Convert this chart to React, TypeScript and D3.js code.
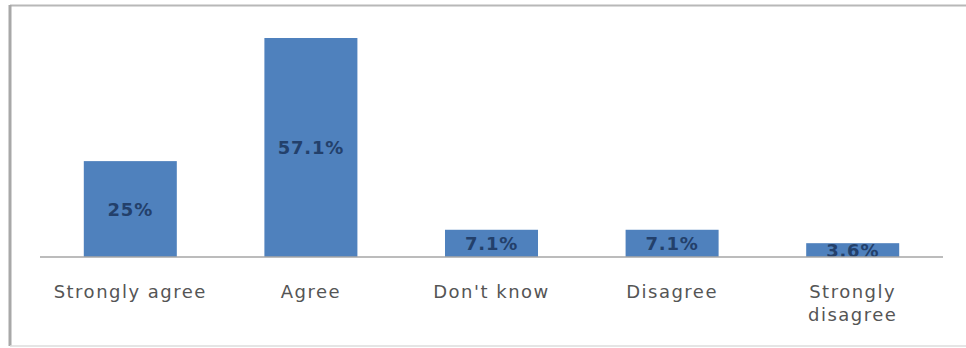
import React from "react";
import * as d3 from "d3";

const categories = ["Strongly agree", "Agree", "Don't know", "Disagree", "Strongly disagree"];
const values = [25, 57.1, 7.1, 7.1, 3.6];
const valueLabels = ["25%", "57.1%", "7.1%", "7.1%", "3.6%"];
// Category labels split over lines where they wrap
const categoryLines = [["Strongly agree"], ["Agree"], ["Don't know"], ["Disagree"], ["Strongly", "disagree"]];

const W = 966;
const H = 348;
const axisLeft = 40;
const axisRight = 943;
const baseY = 257;
const topY = 38;

export default function App() {
  const x = d3
    .scaleBand<string>()
    .domain(categories)
    .range([axisLeft, axisRight])
    .paddingInner(0.485)
    .paddingOuter(0.2425);

  const y = d3.scaleLinear().domain([0, 57.1]).range([baseY, topY]);

  const font = "'DejaVu Sans', 'Open Sans', sans-serif";

  return (
    <svg
      width={W}
      height={H}
      style={{ position: "absolute", left: 0, top: 0, display: "block" }}
      fontFamily={font}
    >
      <rect x={0} y={0} width={W} height={H} fill="#ffffff" />
      {/* chart frame */}
      <line x1={10} x2={W} y1={5.5} y2={5.5} stroke="#b8b8b8" strokeWidth={2} />
      <line x1={10} x2={10} y1={5} y2={346} stroke="#a8a8a8" strokeWidth={3} />
      <line x1={10} x2={W} y1={346} y2={346} stroke="#dcdcdc" strokeWidth={1.5} />

      {categories.map((c, i) => {
        const bx = x(c)!;
        const bw = x.bandwidth();
        const top = y(values[i]);
        return (
          <g key={c}>
            <rect x={bx} y={top} width={bw} height={baseY - top} fill="#4f81bd" />
            <text
              x={bx + bw / 2}
              y={(top + baseY) / 2}
              dy="0.36em"
              textAnchor="middle"
              fontSize={18}
              fontWeight={600}
              letterSpacing={0.8}
              fill="#23406b"
            >
              {valueLabels[i]}
            </text>
          </g>
        );
      })}

      <line x1={axisLeft} x2={axisRight} y1={baseY} y2={baseY} stroke="#a6a6a6" strokeWidth={1.5} />

      {categories.map((c, i) => {
        const cx = x(c)! + x.bandwidth() / 2;
        return (
          <text key={c} textAnchor="middle" fontSize={18} letterSpacing={1.5} fill="#555555">
            {categoryLines[i].map((line, j) => (
              <tspan key={j} x={cx} y={298 + j * 23}>
                {line}
              </tspan>
            ))}
          </text>
        );
      })}
    </svg>
  );
}
